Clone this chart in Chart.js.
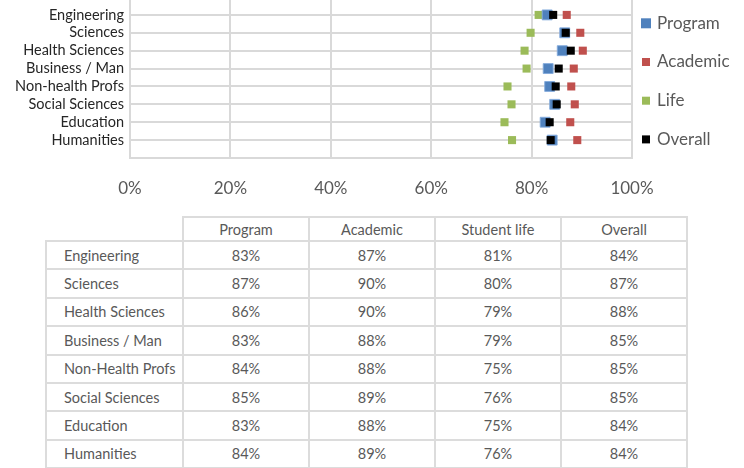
<!DOCTYPE html>
<html>
<head>
<meta charset="utf-8">
<script src="https://cdn.jsdelivr.net/npm/chart.js@4.4.0/dist/chart.umd.min.js"></script>
<style>
  body { margin: 0; background: #fff; font-family: Lato, sans-serif; }
  #wrap { position: relative; width: 744px; height: 468px; overflow: hidden; }
  #chart { position: absolute; left: 0; top: -8px; }
  #tbl { position: absolute; left: 45px; top: 216px; border-collapse: collapse; table-layout: fixed; font-size: 14.5px; color: #595959; }
  #tbl td, #tbl th { border: 2px solid #dcdcdc; font-weight: normal; text-align: center; padding: 0; }
  #tbl th { height: 22px; }
  #tbl td { height: 26.4px; }
  #tbl td.lbl { text-align: left; padding-left: 17px; }
  #tbl th.blank { border-top: none; border-left: none; }
</style>
</head>
<body>
<div id="wrap">
  <canvas id="chart" width="744" height="213"></canvas>
  <table id="tbl"></table>
</div>
<script>
// kategoriler (grafikte yukaridan asagiya)
const categories = ['Engineering', 'Sciences', 'Health Sciences', 'Business / Man', 'Non-health Profs', 'Social Sciences', 'Education', 'Humanities'];
const tableRowLabels = ['Engineering', 'Sciences', 'Health Sciences', 'Business / Man', 'Non-Health Profs', 'Social Sciences', 'Education', 'Humanities'];
const seriesNames = ['Program', 'Academic', 'Life', 'Overall'];
const tableHeaders = ['Program', 'Academic', 'Student life', 'Overall'];

// degerler (%)
const programVals  = [83.1, 86.6, 86.1, 83.3, 83.6, 84.6, 82.7, 84.1];
const academicVals = [87.0, 89.7, 90.2, 88.4, 87.9, 88.6, 87.7, 89.1];
const lifeVals     = [81.4, 79.8, 78.6, 79.0, 75.2, 76.0, 74.6, 76.1];
const overallVals  = [84.3, 86.8, 87.8, 85.4, 84.8, 85.0, 83.6, 83.8];

const xTicks = [0, 20, 40, 60, 80, 100];

const n = categories.length;
const toPoints = vals => vals.map((v, i) => ({ x: v, y: n - i }));

const colors = ['#4f81bd', '#c0504d', '#9bbb59', '#000000'];
const allVals = [programVals, academicVals, lifeVals, overallVals];
const sizes = [7, 5.7, 5.7, 5.7];
const drawOrder = [1, 3, 2, 0];

const datasets = allVals.map((vals, k) => ({
    label: seriesNames[k],
    data: toPoints(vals),
    backgroundColor: colors[k],
    borderColor: k === 0 ? 'rgba(130,170,220,0.9)' : colors[k],
    borderWidth: k === 0 ? 1 : 0,
    pointStyle: 'rect',
    pointRadius: sizes[k],
    order: drawOrder[k]
}));

// sag taraftaki legend - elle ciziyoruz
const sideLegend = {
    id: 'sideLegend',
    afterDraw(chart) {
        const ctx = chart.ctx;
        const x = chart.chartArea.right + 14;
        ctx.save();
        ctx.font = '17px Lato';
        ctx.textBaseline = 'middle';
        chart.data.datasets.forEach((ds, i) => {
            const y = chart.chartArea.top + 23.3 + i * 38.7;
            const s = i === 0 ? 10 : 8;
            ctx.fillStyle = ds.backgroundColor;
            ctx.fillRect(x - s / 2, y - s / 2, s, s);
            ctx.fillStyle = '#595959';
            ctx.fillText(ds.label, x + 11, y);
        });
        ctx.restore();
    }
};

const chart = new Chart(document.getElementById('chart'), {
    type: 'scatter',
    data: { datasets: datasets },
    plugins: [sideLegend],
    options: {
        responsive: false,
        animation: false,
        layout: { padding: { left: 0, right: 112, top: 0, bottom: 0 } },
        plugins: { legend: { display: false }, tooltip: { enabled: false } },
        scales: {
            x: {
                type: 'linear', min: 0, max: 100,
                afterBuildTicks: s => { s.ticks = xTicks.map(v => ({ value: v })); },
                afterFit: s => { s.height = 47; s.paddingLeft = 0; s.paddingRight = 0; },
                ticks: { callback: v => v + '%', font: { family: 'Lato', size: 17 }, color: '#595959', padding: 20 },
                grid: { color: '#d9d9d9', lineWidth: 2, drawTicks: false },
                border: { color: '#d9d9d9', width: 2 }
            },
            y: {
                type: 'linear', min: 0, max: n + 15 / 18,
                afterBuildTicks: s => { s.ticks = categories.map((c, i) => ({ value: i })).concat([{ value: n }]); },
                afterFit: s => { s.width = 130; s.paddingTop = 0; s.paddingBottom = 0; },
                ticks: {
                    autoSkip: false,
                    callback: v => (v >= 1 ? categories[n - v] : ''),
                    font: { family: 'Lato', size: 14.5 }, color: '#262626', padding: 6
                },
                grid: { color: '#d9d9d9', lineWidth: 2, drawTicks: false },
                border: { color: '#d9d9d9', width: 2 }
            }
        }
    }
});

// grafik alaninin ust kenari sayfanin en ustune gelsin
document.getElementById('chart').style.top = (-chart.chartArea.top) + 'px';

// tablo
const tbl = document.getElementById('tbl');
let html = '<colgroup><col style="width:137px">' + tableHeaders.map(() => '<col style="width:126px">').join('') + '</colgroup>';
html += '<tr><th class="blank"></th>' + tableHeaders.map(h => `<th>${h}</th>`).join('') + '</tr>';
tableRowLabels.forEach((lbl, i) => {
    html += `<tr><td class="lbl">${lbl}</td>` + allVals.map(vals => `<td>${Math.round(vals[i])}%</td>`).join('') + '</tr>';
});
tbl.innerHTML = html;
</script>
</body>
</html>
